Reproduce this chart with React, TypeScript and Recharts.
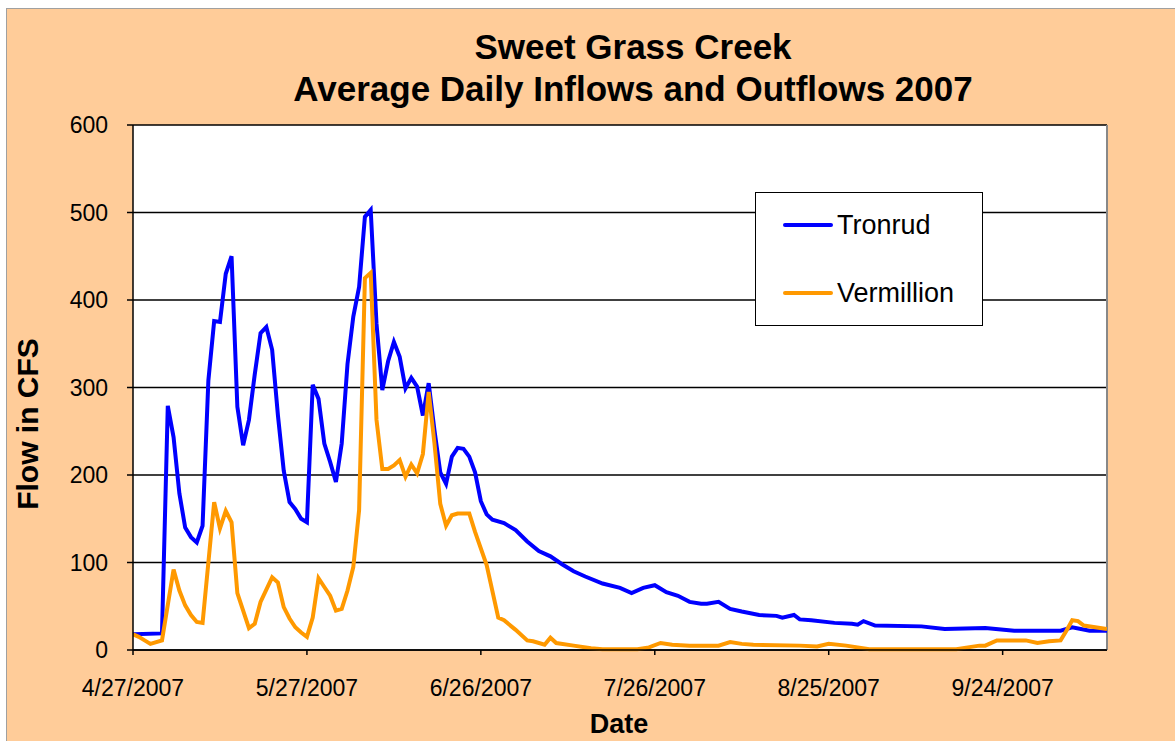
import { LineChart, Line, XAxis, YAxis, CartesianGrid, ReferenceLine } from 'recharts';

const FONT = '"Liberation Sans", Arial, sans-serif';

// days counted from 4/27/2007
const tronrudDays = [
    0, 5, 6, 7, 8, 9, 10, 11, 12, 13, 14, 15, 16, 17, 18, 19, 20, 21, 22, 23, 24, 25, 26, 27, 28, 29, 30,
    31, 32, 33, 34, 35, 36, 37, 38, 39, 40, 41, 42, 43, 44, 45, 46, 47, 48, 49, 50, 51, 52, 53, 54, 55,
    56, 57, 58, 59, 60, 61, 62, 64, 66, 68, 70, 72, 74, 76, 78, 81, 84, 86, 88, 90, 92, 94, 96, 98, 99,
    101, 103, 105, 108, 111, 112, 114, 115, 117, 121, 124, 125, 126, 128, 136, 140, 147, 152, 160, 162,
    165, 168,
];
const tronrudFlow = [
    18, 19, 279, 243, 179, 140, 129, 123, 142, 308, 376, 375, 430, 450, 278, 234, 263, 315, 362, 369, 343, 268, 205, 169, 161, 150, 146,
    303, 287, 236, 215, 192, 236, 327, 381, 415, 495, 503, 373, 297, 330, 352, 335, 299, 311, 301, 268, 305, 251, 203, 190, 221,
    231, 230, 221, 203, 170, 155, 149, 145, 137, 124, 113, 107, 98, 90, 84, 76, 71, 65, 71, 74, 66, 62, 55, 53, 53,
    55, 47, 44, 40, 39, 37, 40, 35, 34, 31, 30, 29, 33, 28, 27, 24, 25, 22, 22, 26,
    22, 22,
];

const vermillionDays = [
    0, 1, 2, 3, 5, 7, 8, 9, 10, 11, 12, 14, 15, 16, 17, 18, 19, 20, 21, 22, 24, 25, 26, 27, 28, 29, 30,
    31, 32, 33, 34, 35, 36, 37, 38, 39, 40, 41, 42, 43, 44, 45, 46, 47, 48, 49, 50, 51, 52, 53, 54, 55,
    56, 58, 59, 61, 63, 64, 66, 68, 69, 71, 72, 73, 76, 79, 81, 87, 89, 91, 93, 96, 101, 103, 105, 107,
    115, 118, 120, 123, 127, 142, 144, 146, 147, 149, 154, 156, 158, 160, 161, 162, 163, 164, 168,
];
const vermillionFlow = [
    18, 15, 11, 7, 11, 92, 68, 51, 40, 32, 31, 169, 139, 159, 146, 65, 45, 25, 30, 55, 83, 77, 49, 36, 26, 20, 15,
    37, 82, 72, 62, 45, 47, 68, 95, 160, 425, 431, 263, 207, 207, 211, 217, 198, 212, 202, 224, 295, 236, 167, 142, 154,
    156, 156, 135, 97, 37, 34, 23, 11, 10, 6, 14, 8, 5, 2, 1, 1, 3, 8, 6, 5, 5, 9, 7, 6,
    5, 4, 7, 5, 1, 1, 3, 5, 5, 11, 11, 8, 10, 11, 22, 34, 33, 28, 24,
];

const tickDays = [0, 30, 60, 90, 120, 150];
const tickLabels = ['4/27/2007', '5/27/2007', '6/26/2007', '7/26/2007', '8/25/2007', '9/24/2007'];
const flowTicks = [0, 100, 200, 300, 400, 500, 600];

const tronrudData = tronrudDays.map((day, i) => ({ day, flow: tronrudFlow[i] }));
const vermillionData = vermillionDays.map((day, i) => ({ day, flow: vermillionFlow[i] }));

const legendItems = [
    { name: 'Tronrud', color: '#0000FF' },
    { name: 'Vermillion', color: '#FF9900' },
];

function LegendBox() {
    return (
        <div style={{ position: 'absolute', left: 755, top: 192, width: 226, height: 132, border: '1.5px solid #000', background: '#fff', fontFamily: FONT }}>
            {legendItems.map((item, i) => (
                <div key={item.name} style={{ position: 'absolute', left: 27, top: 15 + i * 68, height: 34, display: 'flex', alignItems: 'center' }}>
                    <div style={{ width: 50, height: 4, background: item.color, borderRadius: 2 }} />
                    <span style={{ fontSize: 27, marginLeft: 4, color: '#000' }}>{item.name}</span>
                </div>
            ))}
        </div>
    );
}

export default function App() {
    return (
        <div style={{ position: 'fixed', left: 0, top: 0, width: 1175, height: 741, background: '#fff', overflow: 'hidden' }}>
            <div style={{ position: 'absolute', left: 6, top: 8, width: 1200, height: 760, background: '#FFCC99', border: '1px solid #a0a0a0' }} />
            <div style={{ position: 'absolute', left: 0, width: 1266, top: 26, textAlign: 'center', fontFamily: FONT, fontWeight: 'bold', fontSize: 35, lineHeight: '42px', color: '#000' }}>
                Sweet Grass Creek<br />Average Daily Inflows and Outflows 2007
            </div>
            <div style={{ position: 'absolute', left: 28, top: 424, transform: 'translate(-50%, -50%) rotate(-90deg)', whiteSpace: 'nowrap', fontFamily: FONT, fontWeight: 'bold', fontSize: 30, color: '#000' }}>
                Flow in CFS
            </div>
            <div style={{ position: 'absolute', left: 619, top: 724, transform: 'translate(-50%, -50%)', fontFamily: FONT, fontWeight: 'bold', fontSize: 27, color: '#000' }}>
                Date
            </div>
            <div style={{ position: 'absolute', left: 0, top: 0 }}>
                <LineChart width={1175} height={741} margin={{ top: 125, right: 68, bottom: 51, left: 73 }}>
                    <CartesianGrid vertical={false} stroke="#000" strokeWidth={1.5} fill="#fff" fillOpacity={1} />
                    <XAxis
                        type="number"
                        dataKey="day"
                        domain={[0, 168]}
                        ticks={tickDays}
                        tickFormatter={(d: number) => tickLabels[tickDays.indexOf(d)] ?? ''}
                        height={40}
                        tickSize={5}
                        tickMargin={25}
                        axisLine={{ stroke: '#000', strokeWidth: 1.5 }}
                        tickLine={{ stroke: '#000', strokeWidth: 1.5 }}
                        tick={{ fill: '#000', fontSize: 23, fontFamily: FONT }}
                        allowDataOverflow
                    />
                    <YAxis
                        domain={[0, 600]}
                        ticks={flowTicks}
                        width={60}
                        tickSize={6}
                        tickMargin={19}
                        axisLine={{ stroke: '#000', strokeWidth: 1.5 }}
                        tickLine={{ stroke: '#000', strokeWidth: 1.5 }}
                        tick={{ fill: '#000', fontSize: 23, fontFamily: FONT }}
                    />
                    <ReferenceLine x={168} stroke="#888" strokeWidth={2} />
                    <Line data={tronrudData} dataKey="flow" name="Tronrud" type="linear" stroke="#0000FF" strokeWidth={4} dot={false} isAnimationActive={false} />
                    <Line data={vermillionData} dataKey="flow" name="Vermillion" type="linear" stroke="#FF9900" strokeWidth={4} dot={false} isAnimationActive={false} />
                </LineChart>
            </div>
            <LegendBox />
        </div>
    );
}
